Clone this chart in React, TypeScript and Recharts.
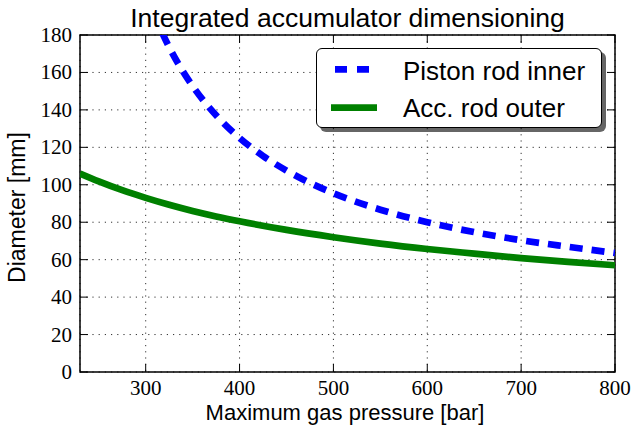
import React from 'react'
import {
  LineChart,
  Line,
  XAxis,
  YAxis,
  CartesianGrid,
  ReferenceArea,
} from 'recharts'

const WIDTH = 632
const HEIGHT = 429

// plot box in page pixels
const PLOT_LEFT = 80
const PLOT_RIGHT = 615
const PLOT_TOP = 35
const PLOT_BOTTOM = 372

const X_MIN = 230
const X_MAX = 800
const Y_MIN = 0
const Y_MAX = 180

const TITLE = 'Integrated accumulator dimensioning'
const X_LABEL = 'Maximum gas pressure [bar]'
const Y_LABEL = 'Diameter [mm]'
const SERIES_NAMES = ['Piston rod inner', 'Acc. rod outer']

const X_TICKS = [300, 400, 500, 600, 700, 800]
const Y_TICKS = [0, 20, 40, 60, 80, 100, 120, 140, 160, 180]

// Piston rod inner (blue dashed), runs off the top of the plot below ~320 bar
const PRESSURE_INNER = [300, 310, 318, 325, 335, 350, 375, 400, 425, 450, 475, 500, 550, 600, 650, 700, 750, 800]
const DIAMETER_INNER = [203, 189.8, 180.7, 173.5, 164.4, 152.7, 137.1, 125, 115.4, 107.6, 101, 95.5, 86.7, 80, 74.7, 70.4, 66.9, 63.6]

// Acc. rod outer (green solid)
const PRESSURE_OUTER = [230, 250, 275, 300, 325, 350, 375, 400, 450, 500, 550, 600, 650, 700, 750, 800]
const DIAMETER_OUTER = [106, 101.8, 97.1, 93, 89.3, 86, 83.1, 80.5, 75.9, 72, 68.6, 65.7, 63.2, 60.8, 58.8, 57]

const innerData = PRESSURE_INNER.map((p, i) => ({ p, d: DIAMETER_INNER[i] }))
const outerData = PRESSURE_OUTER.map((p, i) => ({ p, d: DIAMETER_OUTER[i] }))

const SANS = "'Liberation Sans', Arial, sans-serif"
const SERIF = "'Liberation Serif', 'Times New Roman', serif"
const BLUE = '#0000ff'
const GREEN = '#008000'
const TICK_LEN = 8

const XTick = (props: any) => {
  const { x, payload } = props
  return (
    <g>
      <line x1={x} x2={x} y1={PLOT_BOTTOM} y2={PLOT_BOTTOM - TICK_LEN} stroke="#000" />
      <line x1={x} x2={x} y1={PLOT_TOP} y2={PLOT_TOP + TICK_LEN} stroke="#000" />
      <text
        x={x}
        y={PLOT_BOTTOM + 23}
        textAnchor="middle"
        fontFamily={SERIF}
        fontSize={21}
        fill="#000"
      >
        {payload.value}
      </text>
    </g>
  )
}

const YTick = (props: any) => {
  const { y, payload } = props
  return (
    <g>
      <line x1={PLOT_LEFT} x2={PLOT_LEFT + TICK_LEN} y1={y} y2={y} stroke="#000" />
      <line x1={PLOT_RIGHT} x2={PLOT_RIGHT - TICK_LEN} y1={y} y2={y} stroke="#000" />
      <text
        x={PLOT_LEFT - 8}
        y={y + 7}
        textAnchor="end"
        fontFamily={SERIF}
        fontSize={21}
        fill="#000"
      >
        {payload.value}
      </text>
    </g>
  )
}

const LegendBox = () => (
  <div
    style={{
      position: 'absolute',
      left: 316,
      top: 48,
      width: 286,
      height: 80,
      boxSizing: 'border-box',
      border: '1.5px solid #000',
      borderRadius: 6,
      background: '#fff',
      boxShadow: '4px 4px 0 rgba(0,0,0,0.6)',
    }}
  >
    <svg width={286} height={80} style={{ position: 'absolute', left: -1.5, top: -1.5 }}>
      <line x1={19} x2={57} y1={21.3} y2={21.3} stroke={BLUE} strokeWidth={6.7} strokeDasharray="12 10" />
      <text x={87} y={32} fontFamily={SANS} fontSize={26} fill="#000">
        {SERIES_NAMES[0]}
      </text>
      <line x1={15} x2={61} y1={59.7} y2={59.7} stroke={GREEN} strokeWidth={6.7} />
      <text x={87} y={68.7} fontFamily={SANS} fontSize={26} fill="#000">
        {SERIES_NAMES[1]}
      </text>
    </svg>
  </div>
)

const App = () => {
  const midX = (PLOT_LEFT + PLOT_RIGHT) / 2
  const midY = (PLOT_TOP + PLOT_BOTTOM) / 2
  return (
    <div style={{ position: 'absolute', left: 0, top: 0, width: WIDTH, height: HEIGHT, background: '#fff' }}>
      <LineChart
        width={WIDTH}
        height={HEIGHT}
        margin={{ top: PLOT_TOP, right: WIDTH - PLOT_RIGHT, bottom: 0, left: 0 }}
      >
        <CartesianGrid
          stroke="#333"
          strokeDasharray="1.2 5"
          strokeWidth={1}
        />
        <XAxis
          type="number"
          dataKey="p"
          domain={[X_MIN, X_MAX]}
          ticks={X_TICKS}
          allowDataOverflow
          height={HEIGHT - PLOT_BOTTOM}
          axisLine={false}
          tickLine={false}
          tick={(props: any) => <XTick {...props} />}
        />
        <YAxis
          type="number"
          domain={[Y_MIN, Y_MAX]}
          ticks={Y_TICKS}
          allowDataOverflow
          width={PLOT_LEFT}
          axisLine={false}
          tickLine={false}
          tick={(props: any) => <YTick {...props} />}
        />
        <ReferenceArea
          x1={X_MIN}
          x2={X_MAX}
          y1={Y_MIN}
          y2={Y_MAX}
          fill="none"
          stroke="#000"
          strokeWidth={1.5}
          fillOpacity={0}
        />
        <Line
          data={outerData}
          dataKey="d"
          name={SERIES_NAMES[1]}
          type="monotone"
          stroke={GREEN}
          strokeWidth={6.7}
          dot={false}
          activeDot={false}
          isAnimationActive={false}
        />
        <Line
          data={innerData}
          dataKey="d"
          name={SERIES_NAMES[0]}
          type="monotone"
          stroke={BLUE}
          strokeWidth={6.7}
          strokeDasharray="13 9"
          dot={false}
          activeDot={false}
          isAnimationActive={false}
        />
      </LineChart>
      <svg
        width={WIDTH}
        height={HEIGHT}
        style={{ position: 'absolute', left: 0, top: 0, pointerEvents: 'none' }}
      >
        <text x={midX} y={27} textAnchor="middle" fontFamily={SANS} fontSize={26.5} fill="#000">
          {TITLE}
        </text>
        <text x={345} y={420} textAnchor="middle" fontFamily={SANS} fontSize={22} fill="#000">
          {X_LABEL}
        </text>
        <text
          x={0}
          y={0}
          transform={`translate(25, ${midY + 4}) rotate(-90)`}
          textAnchor="middle"
          fontFamily={SANS}
          fontSize={23}
          fill="#000"
        >
          {Y_LABEL}
        </text>
      </svg>
      <LegendBox />
    </div>
  )
}

export default App
